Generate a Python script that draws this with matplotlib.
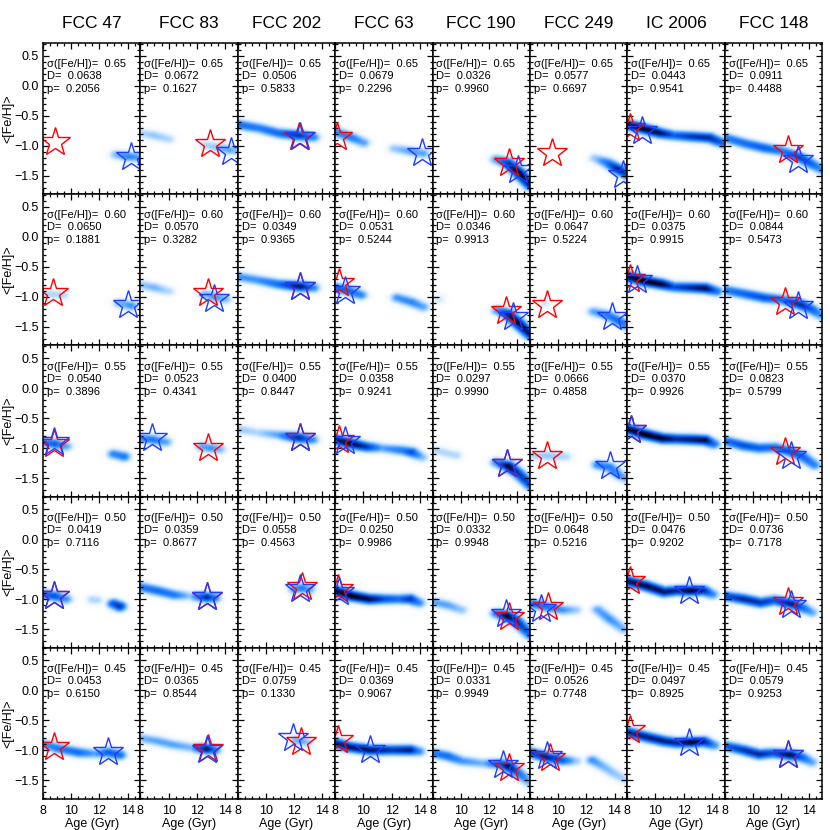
import numpy as np
import matplotlib
matplotlib.use("Agg")
import matplotlib.pyplot as plt
from matplotlib.colors import LinearSegmentedColormap
from matplotlib.ticker import MultipleLocator

plt.rcParams['font.family'] = ['Liberation Sans', 'DejaVu Sans']

names = ["FCC 47", "FCC 83", "FCC 202", "FCC 63", "FCC 190", "FCC 249", "IC 2006", "FCC 148"]
sigmas = [0.65, 0.60, 0.55, 0.50, 0.45]

D_vals = [
    [0.0638, 0.0672, 0.0506, 0.0679, 0.0326, 0.0577, 0.0443, 0.0911],
    [0.0650, 0.0570, 0.0349, 0.0531, 0.0346, 0.0647, 0.0375, 0.0844],
    [0.0540, 0.0523, 0.0400, 0.0358, 0.0297, 0.0666, 0.0370, 0.0823],
    [0.0419, 0.0359, 0.0558, 0.0250, 0.0332, 0.0648, 0.0476, 0.0736],
    [0.0453, 0.0365, 0.0759, 0.0369, 0.0331, 0.0526, 0.0497, 0.0579],
]
p_vals = [
    [0.2056, 0.1627, 0.5833, 0.2296, 0.9960, 0.6697, 0.9541, 0.4488],
    [0.1881, 0.3282, 0.9365, 0.5244, 0.9913, 0.5224, 0.9915, 0.5473],
    [0.3896, 0.4341, 0.8447, 0.9241, 0.9990, 0.4858, 0.9926, 0.5799],
    [0.7116, 0.8677, 0.4563, 0.9986, 0.9948, 0.5216, 0.9202, 0.7178],
    [0.6150, 0.8544, 0.1330, 0.9067, 0.9949, 0.7748, 0.8925, 0.9253],
]

# star positions (age, [Fe/H])
red_age = [
    [8.82, 12.9, 12.36, 8.1, 13.4, 9.54, 8.2, 12.5],
    [8.7, 12.8, 12.4, 8.25, 13.2, 9.2, 8.2, 12.3],
    [8.8, 12.8, 12.4, 8.3, 13.25, 9.2, 8.3, 12.3],
    [8.8, 12.7, 12.55, 8.2, 13.4, 9.3, 8.2, 12.5],
    [8.8, 12.8, 12.5, 8.2, 13.4, 9.4, 8.2, 12.5],
]
red_feh = [
    [-0.94, -0.98, -0.86, -0.86, -1.29, -1.13, -0.70, -1.08],
    [-0.93, -0.94, -0.83, -0.77, -1.24, -1.13, -0.70, -1.08],
    [-0.94, -1.00, -0.83, -0.86, -1.27, -1.13, -0.70, -1.07],
    [-0.94, -0.97, -0.80, -0.83, -1.30, -1.13, -0.69, -1.05],
    [-0.95, -0.98, -0.86, -0.83, -1.30, -1.13, -0.66, -1.08],
]
blue_age = [
    [14.25, 14.4, 12.4, 14.14, 14.05, 14.6, 9.04, 13.2],
    [14.0, 13.2, 12.4, 8.7, 13.7, 13.8, 8.7, 13.2],
    [8.8, 8.8, 12.4, 8.7, 13.25, 13.7, 8.3, 12.7],
    [8.8, 12.7, 12.4, 8.25, 13.2, 8.8, 12.4, 12.7],
    [12.6, 12.7, 11.9, 10.5, 13.0, 9.2, 12.4, 12.5],
]
blue_feh = [
    [-1.19, -1.10, -0.86, -1.13, -1.41, -1.49, -0.76, -1.24],
    [-1.14, -1.03, -0.83, -0.91, -1.33, -1.33, -0.72, -1.16],
    [-0.90, -0.83, -0.83, -0.88, -1.27, -1.30, -0.70, -1.13],
    [-0.94, -0.97, -0.83, -0.88, -1.24, -1.16, -0.86, -1.10],
    [-1.02, -0.99, -0.80, -1.00, -1.24, -1.10, -0.88, -1.08],
]

# density ridges per galaxy, one entry per row: list of tracks of (age, feh, weight)
fcc47 = [
    [[(13.2, -1.16, 0.25), (14.0, -1.19, 0.4), (14.9, -1.21, 0.3)]],
    [[(8.3, -0.97, 0.15), (9.4, -0.98, 0.15)], [(13.4, -1.12, 0.25), (14.2, -1.16, 0.35)]],
    [[(8.0, -0.90, 0.4), (8.8, -0.93, 0.55), (9.6, -0.97, 0.3)], [(13.0, -1.10, 0.4), (13.7, -1.14, 0.45)]],
    [[(8.0, -0.92, 0.5), (8.8, -0.95, 0.6), (9.6, -1.0, 0.35)], [(11.5, -1.01, 0.15), (11.8, -1.02, 0.15)],
     [(13.0, -1.08, 0.6), (13.4, -1.12, 0.7)]],
    [[(8.0, -0.90, 0.35), (9.0, -0.97, 0.45), (10.5, -1.04, 0.5), (11.6, -1.06, 0.3), (12.6, -1.04, 0.55),
      (13.4, -1.08, 0.5)]],
]
fcc83 = [
    [[(8.0, -0.80, 0.15), (9.0, -0.84, 0.2), (10.0, -0.90, 0.15)],
     [(12.6, -1.0, 0.15), (13.3, -1.03, 0.2), (14.3, -1.08, 0.3), (14.9, -1.10, 0.2)]],
    [[(8.0, -0.81, 0.2), (9.0, -0.86, 0.25), (10.0, -0.92, 0.15)],
     [(12.6, -0.97, 0.25), (13.3, -1.02, 0.35), (14.0, -1.05, 0.25)]],
    [[(8.2, -0.84, 0.4), (8.9, -0.86, 0.45), (9.8, -0.90, 0.3)],
     [(12.4, -0.98, 0.3), (13.0, -1.0, 0.35), (13.6, -1.02, 0.25)]],
    [[(8.0, -0.80, 0.45), (9.2, -0.86, 0.5), (10.4, -0.93, 0.45), (11.5, -0.95, 0.2), (12.7, -0.97, 0.75),
      (13.2, -0.98, 0.5)]],
    [[(8.0, -0.80, 0.25), (9.2, -0.85, 0.3), (10.3, -0.91, 0.3), (11.6, -0.96, 0.25), (12.7, -0.98, 0.85),
      (13.2, -1.0, 0.5)]],
]
fcc202 = [
    [[(8.0, -0.66, 0.5), (9.5, -0.72, 0.45), (10.8, -0.80, 0.5), (12.3, -0.84, 0.7), (13.3, -0.87, 0.4)]],
    [[(8.0, -0.68, 0.35), (9.3, -0.73, 0.35), (10.8, -0.80, 0.5), (12.4, -0.84, 0.85), (13.3, -0.86, 0.4)]],
    [[(8.0, -0.69, 0.2), (9.3, -0.74, 0.15), (10.8, -0.78, 0.3), (12.3, -0.83, 0.75), (13.2, -0.86, 0.4)]],
    [[(12.0, -0.83, 0.35), (12.5, -0.82, 0.45), (13.0, -0.84, 0.3)]],
    [[(12.1, -0.84, 0.25), (12.5, -0.85, 0.3), (12.9, -0.87, 0.2)]],
]
fcc63 = [
    [[(8.0, -0.78, 0.4), (9.0, -0.86, 0.45), (10.0, -0.96, 0.3)],
     [(12.2, -1.06, 0.2), (13.3, -1.10, 0.3), (14.2, -1.14, 0.3)]],
    [[(8.0, -0.86, 0.5), (8.8, -0.90, 0.55), (9.8, -0.98, 0.4)],
     [(12.4, -1.03, 0.35), (13.4, -1.10, 0.4), (14.2, -1.18, 0.3)]],
    [[(8.0, -0.86, 0.8), (9.0, -0.92, 0.95), (10.2, -0.98, 0.7), (11.3, -1.0, 0.3), (12.8, -1.04, 0.45),
      (13.4, -1.07, 0.6), (14.1, -1.15, 0.25)]],
    [[(8.0, -0.86, 0.9), (9.2, -0.95, 1.0), (10.4, -1.0, 0.9), (11.5, -1.0, 0.6), (12.5, -1.0, 0.5),
      (13.3, -1.0, 0.7), (13.9, -1.06, 0.4)]],
    [[(8.0, -0.88, 0.75), (9.0, -0.95, 0.85), (10.5, -1.0, 0.85), (12.0, -1.0, 0.7), (13.3, -1.0, 0.8),
      (13.9, -1.02, 0.4)]],
]
fcc190 = [
    [[(12.5, -1.24, 0.35), (13.3, -1.30, 0.7), (14.0, -1.45, 0.95), (14.9, -1.67, 0.8)]],
    [[(8.4, -1.05, 0.1)], [(12.6, -1.24, 0.4), (13.3, -1.30, 0.8), (14.0, -1.45, 0.95), (14.9, -1.65, 0.75)]],
    [[(8.2, -1.04, 0.15), (9.6, -1.12, 0.15)],
     [(12.5, -1.24, 0.4), (13.3, -1.30, 0.95), (14.0, -1.42, 0.7), (14.9, -1.62, 0.6)]],
    [[(8.0, -1.05, 0.3), (9.0, -1.10, 0.3), (10.0, -1.18, 0.2)],
     [(12.5, -1.24, 0.45), (13.2, -1.28, 0.95), (13.8, -1.35, 0.75), (14.9, -1.60, 0.5)]],
    [[(8.0, -1.05, 0.45), (9.0, -1.10, 0.5), (10.0, -1.18, 0.35), (11.5, -1.22, 0.25), (12.8, -1.23, 0.6),
      (13.3, -1.27, 0.9), (14.0, -1.38, 0.5), (14.9, -1.55, 0.25)]],
]
fcc249 = [
    [[(12.6, -1.22, 0.2), (13.5, -1.30, 0.5), (14.2, -1.40, 0.8), (14.9, -1.50, 0.6)]],
    [[(9.0, -1.12, 0.1)], [(12.5, -1.26, 0.3), (13.5, -1.32, 0.45), (14.3, -1.42, 0.5), (14.9, -1.50, 0.4)]],
    [[(8.0, -1.12, 0.15), (9.2, -1.13, 0.2), (10.5, -1.14, 0.15)],
     [(12.8, -1.28, 0.4), (13.6, -1.32, 0.45), (14.3, -1.45, 0.35), (14.9, -1.52, 0.25)]],
    [[(8.0, -1.07, 0.45), (9.0, -1.12, 0.5), (10.3, -1.18, 0.35), (11.2, -1.18, 0.2)],
     [(12.8, -1.18, 0.3), (13.6, -1.33, 0.35), (14.6, -1.50, 0.25)]],
    [[(8.0, -1.04, 0.65), (9.2, -1.12, 0.8), (10.3, -1.17, 0.55), (11.2, -1.18, 0.2)],
     [(12.4, -1.17, 0.35), (13.2, -1.28, 0.25), (14.0, -1.40, 0.2), (14.8, -1.50, 0.15)]],
]
ic2006 = [
    [[(8.0, -0.66, 0.85), (9.2, -0.73, 0.95), (10.3, -0.80, 0.85), (11.3, -0.84, 0.55), (12.6, -0.86, 0.7),
      (13.8, -0.88, 0.75), (14.9, -0.98, 0.5)]],
    [[(8.0, -0.67, 0.9), (9.2, -0.75, 1.0), (10.4, -0.80, 0.95), (11.3, -0.85, 0.6), (12.5, -0.86, 0.75),
      (13.5, -0.87, 0.9), (14.3, -0.92, 0.5)]],
    [[(8.0, -0.68, 0.9), (9.2, -0.77, 1.0), (10.5, -0.84, 0.95), (11.5, -0.85, 0.75), (12.8, -0.86, 0.85),
      (13.5, -0.87, 0.9), (14.1, -0.93, 0.5)]],
    [[(8.0, -0.70, 0.85), (9.3, -0.78, 0.9), (10.6, -0.88, 0.85), (11.5, -0.86, 0.75), (12.5, -0.86, 0.95),
      (13.4, -0.86, 0.75), (14.0, -0.92, 0.4)]],
    [[(8.0, -0.70, 0.75), (9.3, -0.78, 0.8), (10.6, -0.85, 0.8), (11.5, -0.88, 0.75), (12.5, -0.87, 0.95),
      (13.4, -0.86, 0.8), (14.1, -0.92, 0.4)]],
]
fcc148 = [
    [[(8.0, -0.88, 0.45), (9.5, -0.98, 0.5), (10.8, -1.05, 0.55), (12.0, -1.10, 0.45), (13.2, -1.20, 0.65),
      (14.0, -1.30, 0.55), (14.9, -1.42, 0.35)]],
    [[(8.0, -0.90, 0.45), (9.5, -0.97, 0.55), (10.8, -1.03, 0.6), (12.0, -1.06, 0.5), (13.3, -1.14, 0.75),
      (14.1, -1.22, 0.55), (14.9, -1.34, 0.3)]],
    [[(8.0, -0.88, 0.5), (9.3, -0.96, 0.6), (10.4, -1.0, 0.55), (11.5, -0.99, 0.5), (12.6, -1.06, 0.6),
      (13.4, -1.13, 0.55), (14.3, -1.28, 0.4)]],
    [[(8.0, -0.95, 0.6), (9.3, -1.0, 0.75), (10.5, -1.06, 0.7), (11.5, -1.02, 0.6), (12.7, -1.08, 0.8),
      (13.5, -1.15, 0.5), (14.1, -1.22, 0.3)]],
    [[(8.0, -0.93, 0.55), (9.3, -1.0, 0.7), (10.4, -1.07, 0.75), (11.4, -1.05, 0.6), (12.6, -1.08, 0.9),
      (13.4, -1.12, 0.55), (14.1, -1.20, 0.3)]],
]
all_tracks = [fcc47, fcc83, fcc202, fcc63, fcc190, fcc249, ic2006, fcc148]

XMIN, XMAX = 8.0, 14.9
YMIN, YMAX = -1.81, 0.71
SA, SF = 0.32, 0.055   # smoothing in age / [Fe/H]

ag = np.linspace(XMIN, XMAX, 260)
fg = np.linspace(YMIN, YMAX, 420)
A, F = np.meshgrid(ag, fg)


def render(tracks):
    img = np.zeros_like(A)
    X, Y = A / SA, F / SF
    for tr in tracks:
        pts = np.array(tr)
        if len(pts) == 1:
            pairs = [(pts[0], pts[0])]
        else:
            pairs = list(zip(pts[:-1], pts[1:]))
        for p0, p1 in pairs:
            x0, y0, x1, y1 = p0[0] / SA, p0[1] / SF, p1[0] / SA, p1[1] / SF
            dx, dy = x1 - x0, y1 - y0
            L2 = dx * dx + dy * dy
            if L2 == 0:
                t = np.zeros_like(X)
            else:
                t = np.clip(((X - x0) * dx + (Y - y0) * dy) / L2, 0, 1)
            d2 = (X - x0 - t * dx) ** 2 + (Y - y0 - t * dy) ** 2
            w = p0[2] * (1 - t) + p1[2] * t
            img = np.maximum(img, w * np.exp(-0.5 * d2))
    return img ** 0.85


cmap = LinearSegmentedColormap.from_list(
    "dens", [(0.0, "#ffffff"), (0.08, "#eef6ff"), (0.22, "#a6d2ff"), (0.4, "#3c96ff"),
             (0.6, "#0a5ff0"), (0.8, "#00248c"), (1.0, "#00000c")])

fig, axes = plt.subplots(5, 8, figsize=(8.3, 8.3), dpi=100, sharex=True, sharey=True,
                         gridspec_kw=dict(hspace=0, wspace=0))
fig.subplots_adjust(left=43 / 830, right=822 / 830, top=1 - 43 / 830, bottom=1 - 799 / 830)

for r in range(5):
    for c in range(8):
        ax = axes[r, c]
        img = render(all_tracks[c][r])
        ax.imshow(img, extent=(XMIN, XMAX, YMIN, YMAX), origin="lower", aspect="auto",
                  cmap=cmap, vmin=0, vmax=1, interpolation="bilinear")
        ax.plot([red_age[r][c]], [red_feh[r][c]], marker="*", ms=22, mfc="none", mec="#ff0000",
                mew=1.0, ls="none")
        ax.plot([blue_age[r][c]], [blue_feh[r][c]], marker="*", ms=22, mfc="none", mec="#1f3cff",
                mew=1.0, ls="none")
        ax.text(0.04, 0.86, "σ([Fe/H])=  %.2f" % sigmas[r], transform=ax.transAxes, fontsize=8,
                va="center", ha="left")
        ax.text(0.04, 0.78, "D=  %.4f" % D_vals[r][c], transform=ax.transAxes, fontsize=8,
                va="center", ha="left")
        ax.text(0.04, 0.695, "p=  %.4f" % p_vals[r][c], transform=ax.transAxes, fontsize=8,
                va="center", ha="left")
        ax.set_xlim(XMIN, XMAX)
        ax.set_ylim(YMIN, YMAX)
        ax.xaxis.set_major_locator(MultipleLocator(2))
        ax.xaxis.set_minor_locator(MultipleLocator(0.5))
        ax.yaxis.set_major_locator(MultipleLocator(0.5))
        ax.yaxis.set_minor_locator(MultipleLocator(0.1))
        ax.tick_params(which="both", direction="in", top=True, right=True, labelsize=9, width=0.9)
        ax.tick_params(which="major", length=4.5)
        ax.tick_params(which="minor", length=2.2)
        ax.tick_params(axis="x", pad=4)
        ax.tick_params(axis="y", pad=3)
        for s in ax.spines.values():
            s.set_linewidth(1.1)
        if c == 0:
            ax.set_ylabel("<[Fe/H]>", fontsize=9)
            ax.yaxis.set_label_coords(-0.29, 0.5)
        if r == 4:
            ax.set_xlabel("Age (Gyr)", fontsize=9, labelpad=1)
        if r == 0:
            ax.set_title(names[c], fontsize=12.5, pad=11)

fig.savefig("out.png", dpi=100)
